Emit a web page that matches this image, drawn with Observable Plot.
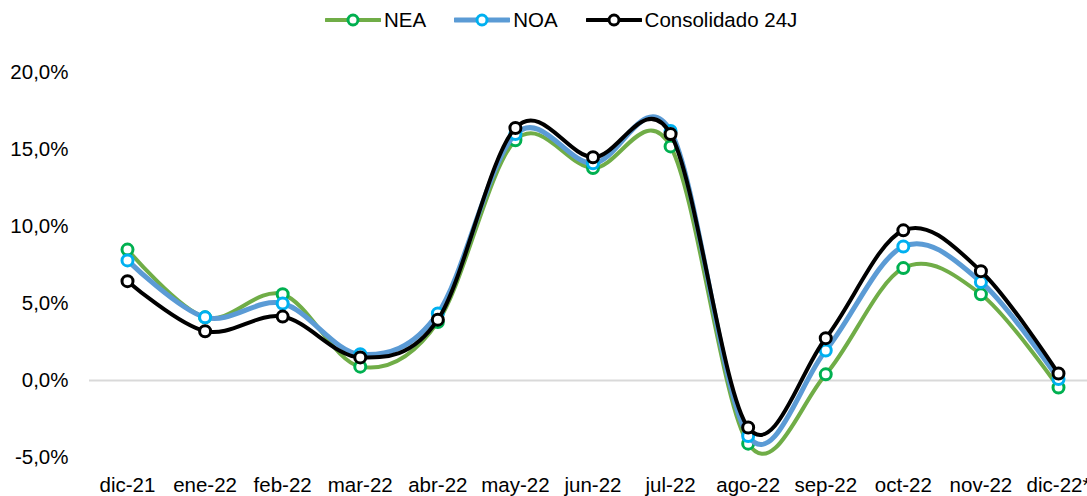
<!DOCTYPE html>
<html>
<head>
<meta charset="utf-8">
<script src="https://cdn.jsdelivr.net/npm/d3@7"></script>
<script src="https://cdn.jsdelivr.net/npm/@observablehq/plot@0.6"></script>
<style>
  body { margin: 0; background: #fff; font-family: "Liberation Sans", Arial, sans-serif; }
  #legend { position: relative; height: 36px; width: 1087px; }
  #legend .row { position: absolute; left: 325px; top: 10px; height: 20px; display: flex; align-items: center; font-size: 20.5px; color: #000; white-space: nowrap; }
  #legend .item { display: flex; align-items: center; margin-right: 28px; }
  #legend .item span { margin-left: 3px; line-height: 20px; }
  #chart svg { display: block; }
</style>
</head>
<body>
<div id="legend"><div class="row"></div></div>
<div id="chart"></div>
<script>
const months = ["dic-21","ene-22","feb-22","mar-22","abr-22","may-22","jun-22","jul-22","ago-22","sep-22","oct-22","nov-22","dic-22*"];
const nea  = [8.5, 4.1, 5.6, 0.9, 3.8, 15.6, 13.8, 15.2, -4.1, 0.4, 7.3, 5.6, -0.45];
const noa  = [7.8, 4.1, 5.0, 1.7, 4.35, 16.0, 14.1, 16.2, -3.6, 1.95, 8.7, 6.4, 0.1];
const cons = [6.45, 3.2, 4.15, 1.5, 3.95, 16.4, 14.5, 16.0, -3.05, 2.75, 9.75, 7.1, 0.45];
const yTicks = [-5, 0, 5, 10, 15, 20];

const series = [
  {name: "NEA", values: nea, line: "#70AD47", marker: "#00B050", width: 4},
  {name: "NOA", values: noa, line: "#5B9BD5", marker: "#00B0F0", width: 5},
  {name: "Consolidado 24J", values: cons, line: "#000000", marker: "#000000", width: 4}
];

// Legend
const row = document.querySelector("#legend .row");
for (const s of series) {
  const item = document.createElement("div");
  item.className = "item";
  item.innerHTML = `<svg width="56" height="20"><line x1="1" x2="55" y1="10" y2="10" stroke="${s.line}" stroke-width="${s.width}" stroke-linecap="round"/><circle cx="28" cy="10" r="5" fill="#fff" stroke="${s.marker}" stroke-width="3"/></svg><span>${s.name}</span>`;
  row.appendChild(item);
}

const rows = series.map(s => months.map((m, i) => ({month: m, value: s.values[i], name: s.name})));

const fmt = d => d.toFixed(1).replace(".", ",") + "%";

const marks = [Plot.ruleY([0], {stroke: "#d9d9d9", strokeWidth: 2})];
series.forEach((s, k) => {
  marks.push(Plot.line(rows[k], {x: "month", y: "value", stroke: s.line, strokeWidth: s.width, curve: "cardinal", tension: 0}));
  marks.push(Plot.dot(rows[k], {x: "month", y: "value", r: 5.5, fill: "#fff", stroke: s.marker, strokeWidth: 3}));
});
marks.push(Plot.axisY({ticks: yTicks, tickSize: 0, tickPadding: 21, tickFormat: fmt}));
marks.push(Plot.axisX({tickSize: 0, tickPadding: 20}));

const chart = Plot.plot({
  width: 1087,
  height: 460,
  marginTop: 36,
  marginBottom: 39,
  marginLeft: 89,
  marginRight: 0,
  style: {fontFamily: "'Liberation Sans', Arial, sans-serif", fontSize: "20.5px", color: "#000", background: "#fff", overflow: "visible"},
  x: {type: "point", domain: months, range: [127, 1058], padding: 0, round: false, label: null},
  y: {domain: [-5, 20], label: null},
  marks
});
document.getElementById("chart").appendChild(chart);
</script>
</body>
</html>
